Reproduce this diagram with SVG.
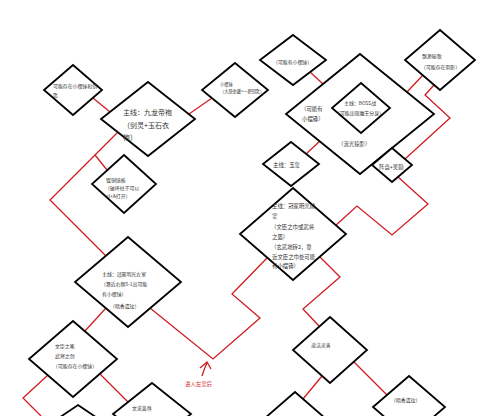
<svg xmlns="http://www.w3.org/2000/svg" width="500" height="416" viewBox="0 0 500 416">
<style>
.d{fill:#fff;stroke:#000;stroke-width:1.8;stroke-linejoin:miter}
.c{fill:none;stroke:#d01c22;stroke-width:1.3}
text{font-family:"Noto Sans CJK SC","Noto Sans",sans-serif;fill:#333;dominant-baseline:central}
.s4{font-size:4.2px}.s5{font-size:4.9px}.s55{font-size:5.4px}.s7{font-size:7px}
</style>
<rect width="500" height="416" fill="#fff"/>
<g id="connectors">
<path class="c" d="M93,98 L110,112"/>
<path class="c" d="M189,114 L212,98"/>
<path class="c" d="M310,72 L323,84"/>
<path class="c" d="M423,75 L407,92"/>
<path class="c" d="M434,85 L425,95 L450,118 L405,159"/>
<path class="c" d="M306,154 L320,141"/>
<path class="c" d="M398,177 L428,204 L392,235 L357,206 L335,226"/>
<path class="c" d="M118,132 L50,200 L106,256"/>
<path class="c" d="M95,155 L107,170"/>
<path class="c" d="M106,308 L85,331"/>
<path class="c" d="M48,375 L23,398 L41,416"/>
<path class="c" d="M100,374 L128,402"/>
<path class="c" d="M150,308 L213,359 L260,318 L232,294 L267,258"/>
<path class="c" d="M320,257 L340,277 L303,309 L319,326"/>
<path class="c" d="M322,376 L303,399"/>
<path class="c" d="M354,362 L387,395"/>
<path class="c" d="M202,376 Q204,369 207,363 M200,368 L207,362 L211,369" stroke-width="1.5"/>
<text x="185" y="384" class="s55" style="fill:#d01c22">进入左室后</text>
</g>
<g id="n1"><polygon class="d" points="73,65 102,90 73,115 44,90"/>
<text x="53" y="85" class="s5">可能存在小摆锤和钥</text><text x="53" y="94" class="s5">匙</text></g>
<g id="n2"><polygon class="d" points="148,82 195,119 148,156 101,119"/>
<text x="123" y="112" class="s7">主线：九龙帝袍</text><text x="123" y="125" class="s7">（剑灵+玉石衣</text><text x="123" y="137" class="s7">袍）</text></g>
<g id="n3"><polygon class="d" points="235,63 268,90 235,117 202,90"/>
<text x="220" y="84" class="s4">小摆锤</text><text x="220" y="91" class="s4">（大鼎金罐+一把钥匙）</text></g>
<g id="n4"><polygon class="d" points="293,35 326,60 293,85 260,60"/>
<text x="273" y="61" class="s5">（可能有小摆锤）</text></g>
<g id="n5"><polygon class="d" points="360,54 434,114 360,174 286,114"/>
<text x="301" y="109" class="s55">（可能有</text><text x="302" y="119" class="s55">小摆锤）</text><text x="338" y="144" class="s55">（流光掠影）</text></g>
<g id="n6"><polygon class="d" points="361,83 390,108 361,133 332,108"/>
<text x="344" y="102" class="s5">主线：BOSS战</text><text x="335" y="112" class="s5">（可能出现魔王分身）</text></g>
<g id="n7"><polygon class="d" points="440,30 475,60 440,90 405,60"/>
<text x="422" y="55" class="s5">飘渺秘歌</text><text x="421" y="66" class="s5">（可能存在阴影）</text></g>
<g id="n8"><polygon class="d" points="392,148 412,165 392,182 372,165"/>
<text x="379" y="167" class="s55">阵盘+奖励</text></g>
<g id="n9"><polygon class="d" points="291,142 319,164 291,186 263,164"/>
<text x="273" y="165" class="s55">主线：玉玺</text></g>
<g id="n10"><polygon class="d" points="293,188 346,234 293,280 240,234"/>
<text x="272" y="206" class="s55">主线：冠冕明光前</text><text x="272" y="216" class="s55">室</text>
<text x="271" y="227" class="s55">（文臣之巾或武将</text><text x="272" y="237" class="s55">之盔）</text>
<text x="271" y="247" class="s55">（玄武地砖2，靠</text><text x="272" y="257" class="s55">近文臣之巾处可能</text><text x="272" y="266" class="s55">有小摆锤）</text></g>
<g id="n11"><polygon class="d" points="124,155 156,184 124,213 92,184"/>
<text x="106" y="179" class="s5">镀铜镜板</text><text x="105" y="187" class="s5">（破坏柱子可以</text><text x="106" y="195" class="s5">el+A打开）</text></g>
<g id="n12"><polygon class="d" points="128,237 181,282 128,327 75,282"/>
<text x="102" y="273" class="s5">主线：冠冕明光左室</text><text x="101" y="283" class="s5">（靠近右侧5-1出可能</text><text x="102" y="293" class="s5">有小摆锤）</text><text x="110" y="305" class="s5">（暗香遗玟）</text></g>
<g id="n13"><polygon class="d" points="73,321 117,359 73,397 29,359"/>
<text x="55" y="345" class="s5">文臣之笔</text><text x="55" y="355" class="s5">武将之剑</text><text x="53" y="365" class="s5">（可能存在小摆锤）</text></g>
<g id="n14"><polygon class="d" points="152,383 191,414 152,445 113,414"/>
<text x="132" y="407" class="s5">文采斐然</text></g>
<g id="n15"><polygon class="d" points="78,405 115,430 78,455 41,430"/></g>
<g id="n16"><polygon class="d" points="330,317 367,350 330,383 293,350"/>
<text x="311" y="344" class="s5">道法灵善</text></g>
<g id="n17"><polygon class="d" points="295,392 333,425 295,458 257,425"/></g>
<g id="n18"><polygon class="d" points="409,376 445,407 409,438 373,407"/>
<text x="391" y="399" class="s5">（暗香遗玟）</text></g>
</svg>
